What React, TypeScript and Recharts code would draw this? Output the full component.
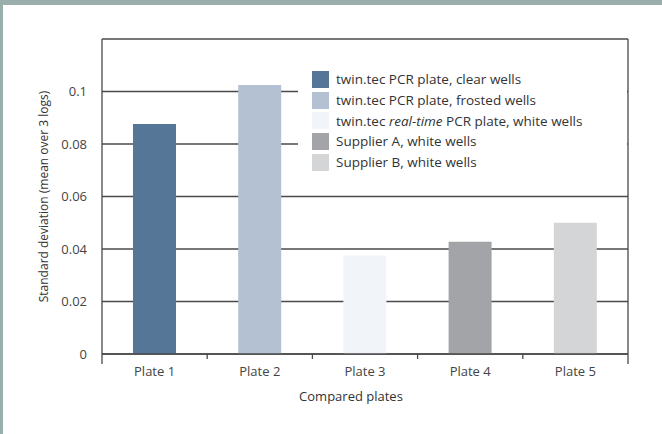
import { BarChart, Bar, XAxis, YAxis, CartesianGrid, Cell, Label } from "recharts";

const plates = ["Plate 1", "Plate 2", "Plate 3", "Plate 4", "Plate 5"];
const stdDev = [0.0876, 0.1025, 0.0375, 0.0428, 0.05];
const barColors = ["#567697", "#b3c1d2", "#f1f5f9", "#a3a4a8", "#d4d5d7"];
const legendNames = [
  "twin.tec PCR plate, clear wells",
  "twin.tec PCR plate, frosted wells",
  "twin.tec real-time PCR plate, white wells",
  "Supplier A, white wells",
  "Supplier B, white wells",
];
const yTicks = [0, 0.02, 0.04, 0.06, 0.08, 0.1, 0.12];

const data = plates.map((name, i) => ({ name, value: stdDev[i] }));

const FONT = "'Open Sans', 'Noto Sans', sans-serif";
const LINE = "#4a4a4a";

function PlateTick(props: any) {
  const { x, y, payload, index } = props;
  const half = payload.offset || 0;
  const last = index === plates.length - 1;
  return (
    <g>
      <line x1={x - half} x2={x - half} y1={y} y2={y + (index === 0 ? 10 : 5)} stroke={LINE} strokeWidth={1.3} />
      {last && <line x1={x + half} x2={x + half} y1={y} y2={y + 10} stroke={LINE} strokeWidth={1.3} />}
      <text x={x} y={y + 22} textAnchor="middle" fontSize={13} fill="#444" fontFamily={FONT}>
        {payload.value}
      </text>
    </g>
  );
}

function LegendBox() {
  return (
    <div
      style={{
        position: "absolute",
        left: 298,
        top: 58,
        background: "#fff",
        width: 329,
        height: 122,
        paddingTop: 11,
        boxSizing: "border-box",
        fontFamily: FONT,
        fontSize: 13.5,
        color: "#333",
      }}
    >
      {legendNames.map((n, i) => (
        <div key={n} style={{ display: "flex", alignItems: "center", height: 20.7, whiteSpace: "nowrap" }}>
          <span style={{ display: "inline-block", flex: "none", width: 17, height: 17, background: barColors[i], marginLeft: 14, marginRight: 7 }} />
          {i === 2 ? (
            <span>
              twin.tec <i>real-time</i> PCR plate, white wells
            </span>
          ) : (
            <span>{n}</span>
          )}
        </div>
      ))}
    </div>
  );
}

export default function App() {
  return (
    <div style={{ position: "absolute", left: 0, top: 0, width: 662, height: 434, background: "#fff" }}>
      <BarChart
        width={662}
        height={434}
        data={data}
        margin={{ top: 39, right: 33, left: 0, bottom: 0 }}
        style={{ position: "absolute", left: 0, top: 0 }}
      >
        <CartesianGrid vertical={false} stroke={LINE} strokeWidth={1.3} />
        <XAxis
          dataKey="name"
          height={80}
          axisLine={{ stroke: LINE, strokeWidth: 1.3 }}
          tickLine={false}
          tickSize={0}
          tickMargin={0}
          tick={<PlateTick />}
          interval={0}
        >
          <Label value="Compared plates" position="insideTop" offset={38} dx={-14} fontSize={13} fill="#333" fontFamily={FONT} />
        </XAxis>
        <YAxis
          width={102}
          domain={[0, 0.12]}
          ticks={yTicks}
          tickFormatter={(v: number) => (v >= 0.11 ? "" : String(v))}
          axisLine={{ stroke: LINE, strokeWidth: 1.3 }}
          tickLine={false}
          tickMargin={9}
          tick={{ fontSize: 13, fill: "#444", fontFamily: FONT }}
        >
          <Label
            value="Standard deviation (mean over 3 logs)"
            angle={-90}
            position="insideLeft"
            offset={44}
            style={{ textAnchor: "middle" }}
            fontSize={12}
            fill="#333"
            fontFamily={FONT}
          />
        </YAxis>
        <YAxis
          yAxisId="right"
          orientation="right"
          width={1}
          domain={[0, 0.12]}
          tick={false}
          tickLine={false}
          axisLine={{ stroke: LINE, strokeWidth: 1.3 }}
        />
        <Bar dataKey="value" barSize={43} isAnimationActive={false}>
          {data.map((d, i) => (
            <Cell key={d.name} fill={barColors[i]} />
          ))}
        </Bar>
      </BarChart>
      <LegendBox />
      <div style={{ position: "absolute", left: 0, top: 0, width: 662, height: 5, background: "#9aafac" }} />
      <div style={{ position: "absolute", left: 0, top: 0, width: 3, height: 434, background: "#9aafac" }} />
    </div>
  );
}
